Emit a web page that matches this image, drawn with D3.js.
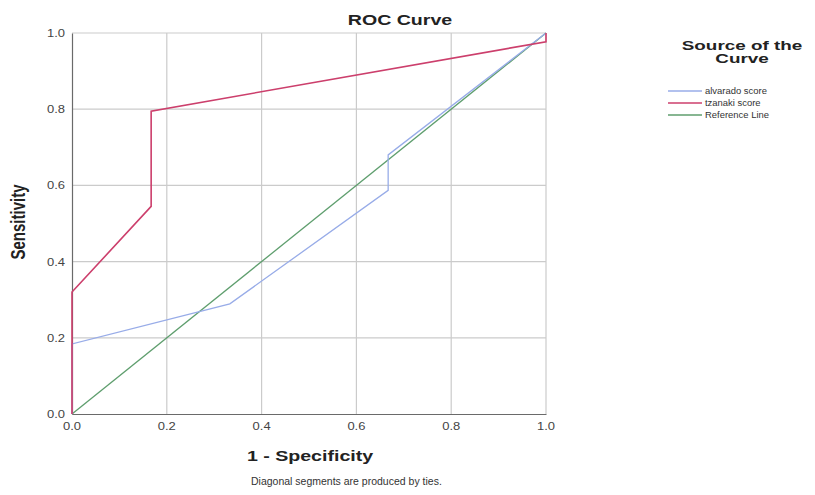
<!DOCTYPE html>
<html>
<head>
<meta charset="utf-8">
<script src="https://cdn.jsdelivr.net/npm/d3@7"></script>
<style>
  body { margin: 0; background: #fff; }
  svg { display: block; font-family: Arial, "Liberation Sans", sans-serif; }
</style>
</head>
<body>
<div id="chart"></div>
<script>
// ROC points (1 - specificity, sensitivity)
var alvaradoFpr  = [0, 0,     0.333, 0.667, 0.667, 1];
var alvaradoSens = [0, 0.184, 0.289, 0.587, 0.68,  1];
var tzanakiFpr   = [0, 0,    0.167, 0.167, 1,     1];
var tzanakiSens  = [0, 0.32, 0.545, 0.795, 0.977, 1];
var refFpr  = [0, 1];
var refSens = [0, 1];

var tickValues = [0, 0.2, 0.4, 0.6, 0.8, 1.0];
var seriesNames = ['alvarado score', 'tzanaki score', 'Reference Line'];
var seriesColors = ['#98ace8', '#cc3f6c', '#5f9e6e'];

var width = 815, height = 495;
var plot = { left: 72, right: 546, top: 33, bottom: 414 };

var svg = d3.select('#chart')
  .append('svg')
  .attr('width', width)
  .attr('height', height);

var x = d3.scaleLinear().domain([0, 1]).range([plot.left, plot.right]);
var y = d3.scaleLinear().domain([0, 1]).range([plot.bottom, plot.top]);

// place text, optionally stretched sideways like the picture's text
function label(txt, px, py, opts){
  var sx = opts.sx || 1;
  var t = svg.append('text')
    .attr('transform', 'translate(' + px + ',' + py + ') ' + (opts.rotate ? 'rotate(-90) scale(1,' + sx + ')' : 'scale(' + sx + ',1)'))
    .attr('text-anchor', opts.anchor || 'start')
    .style('font-size', opts.size + 'px')
    .style('font-weight', opts.bold ? 'bold' : 'normal')
    .style('fill', opts.color || '#222')
    .text(txt);
  return t;
}

// grid lines
svg.append('g')
  .selectAll('line.gx')
  .data(tickValues.slice(1))
  .enter()
  .append('line')
  .attr('x1', function(d){ return x(d) })
  .attr('x2', function(d){ return x(d) })
  .attr('y1', y(0))
  .attr('y2', y(1))
  .style('stroke', '#cbcbcb')
  .style('stroke-width', 1.2);

svg.append('g')
  .selectAll('line.gy')
  .data(tickValues.slice(1))
  .enter()
  .append('line')
  .attr('x1', x(0))
  .attr('x2', x(1))
  .attr('y1', function(d){ return y(d) })
  .attr('y2', function(d){ return y(d) })
  .style('stroke', '#cbcbcb')
  .style('stroke-width', 1.2);

// axes (lines only, labels placed below)
svg.append('g')
  .attr('transform', 'translate(0,' + y(0) + ')')
  .call(d3.axisBottom(x).tickValues(tickValues).tickSize(0).tickFormat(''));
svg.append('g')
  .attr('transform', 'translate(' + x(0) + ',0)')
  .call(d3.axisLeft(y).tickValues(tickValues).tickSize(0).tickFormat(''));
svg.selectAll('.domain').style('stroke', '#6a6a6a').style('stroke-width', 1.2);

tickValues.forEach(function(v){
  label(d3.format('.1f')(v), x(v), y(0) + 16, { size: 10, sx: 1.3, anchor: 'middle', color: '#444' });
  label(d3.format('.1f')(v), x(0) - 7, y(v) + 4, { size: 10, sx: 1.3, anchor: 'end', color: '#444' });
});

// curves
var line = d3.line()
  .x(function(d){ return x(d[0]) })
  .y(function(d){ return y(d[1]) });

var curves = [
  d3.zip(alvaradoFpr, alvaradoSens),
  d3.zip(tzanakiFpr, tzanakiSens),
  d3.zip(refFpr, refSens)
];
var widths = [1.3, 1.6, 1.3];

svg.append('g')
  .selectAll('path')
  .data([2, 0, 1])
  .enter()
  .append('path')
  .attr('d', function(i){ return line(curves[i]) })
  .style('fill', 'none')
  .style('stroke', function(i){ return seriesColors[i] })
  .style('stroke-width', function(i){ return widths[i] });

// titles
label('ROC Curve', 400, 25, { size: 14, sx: 1.4, bold: true, anchor: 'middle' });
label('1 - Specificity', 310, 461, { size: 14, sx: 1.4, bold: true, anchor: 'middle' });
label('Sensitivity', 25, 222, { size: 15, sx: 1.3, bold: true, anchor: 'middle', rotate: true });
label('Diagonal segments are produced by ties.', 251, 485, { size: 10, sx: 1.05, color: '#333' });

// legend
label('Source of the', 742, 50, { size: 13, sx: 1.45, bold: true, anchor: 'middle' });
label('Curve', 742, 63, { size: 13, sx: 1.45, bold: true, anchor: 'middle' });

svg.append('g')
  .selectAll('line')
  .data(seriesNames)
  .enter()
  .append('line')
  .attr('x1', 668)
  .attr('x2', 702)
  .attr('y1', function(d, i){ return 91 + i * 12 })
  .attr('y2', function(d, i){ return 91 + i * 12 })
  .style('stroke', function(d, i){ return seriesColors[i] })
  .style('stroke-width', 1.3);

seriesNames.forEach(function(n, i){
  label(n, 705, 94 + i * 12, { size: 9, sx: 1.05, color: '#333' });
});
</script>
</body>
</html>
